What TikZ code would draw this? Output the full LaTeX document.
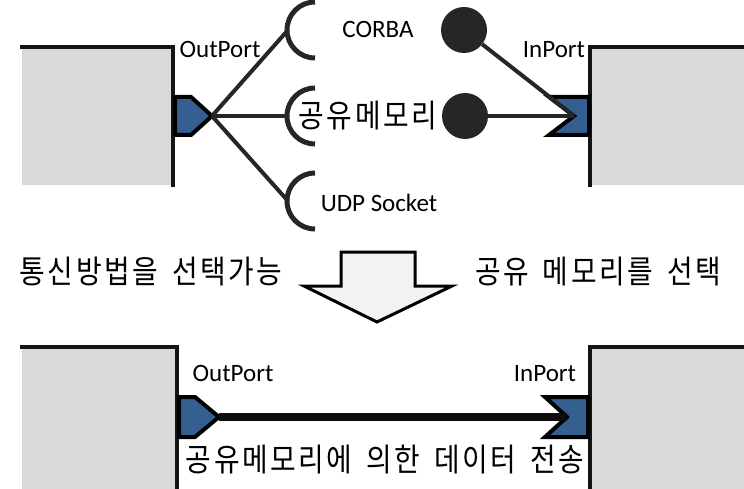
\documentclass[tikz,border=0pt]{standalone}
\usepackage{fontspec}
\setmainfont{Carlito}
\newfontfamily\kr[WordSpace=1.6, FakeStretch=0.87, LetterSpace=8]{Noto Sans CJK KR}
\definecolor{boxgray}{RGB}{217,217,217}
\definecolor{portblue}{RGB}{54,95,145}
\definecolor{conncol}{RGB}{38,38,38}
\definecolor{arrowfill}{RGB}{242,242,242}
\tikzset{
  boxfill/.style={fill=boxgray},
  border/.style={line width=4pt, draw=black!92, line cap=rect},
  portshape/.style={line width=4pt, draw=black, fill=portblue, line join=miter},
  conn/.style={line width=4pt, draw=conncol},
  bigconn/.style={line width=8.5pt, draw=black!95},
  socket/.style={line width=5pt, draw=conncol},
  plug/.style={circle, fill=conncol, minimum size=46pt, inner sep=0pt},
  lat/.style={font=\fontsize{25}{28}\selectfont, inner sep=0pt},
  kor/.style={font=\kr\fontsize{32}{34}\selectfont, inner sep=0pt},
  bigarrow/.style={line width=3pt, draw=black, fill=arrowfill, line join=miter}
}
\begin{document}
\begin{tikzpicture}[x=1pt,y=-1pt]
\useasboundingbox (0,0) rectangle (744,489);
% ---------- top row ----------
\fill[boxfill] (22,49) rectangle (173,185);
\draw[border] (22,47) -- (173,47) -- (173,185);
\fill[boxfill] (591,49) rectangle (744,185);
\draw[border] (590,185) -- (590,47) -- (744,47);
\draw[portshape] (175,97) -- (191,97) -- (212,116) -- (191,135) -- (175,135) -- cycle;
\draw[portshape] (549,97) -- (589,97) -- (589,135) -- (549,135) -- (574,116) -- cycle;
\coordinate (op1) at (212,116);
\coordinate (ip1) at (574,116);
\coordinate (sockA) at (288,30);
\coordinate (sockB) at (288,116);
\coordinate (sockC) at (288,201);
\draw[conn] (op1) -- (sockA);
\draw[conn] (op1) -- (sockB);
\draw[conn] (op1) -- (sockC);
\draw[socket] (315,58) arc[start angle=90, end angle=270, radius=28];
\draw[socket] (315,144) arc[start angle=90, end angle=270, radius=28];
\draw[socket] (315,229) arc[start angle=90, end angle=270, radius=28];
\node[plug] (plugA) at (464,30) {};
\node[plug] (plugB) at (465,116) {};
\draw[conn] (plugA) -- (ip1);
\draw[conn] (plugB) -- (ip1);
\node[lat] (tcorba) at (378,29) {CORBA};
\node[kor] (tshm) at (368,116) {공유메모리};
\node[lat] (tudp) at (379,203) {UDP Socket};
\node[lat] (tout1) at (220,49) {OutPort};
\node[lat] (tin1) at (554,50) {InPort};
% ---------- middle ----------
\node[kor] (tsel) at (151,272) {통신방법을 선택가능};
\node[kor] (tshmsel) at (598,272) {공유 메모리를 선택};
\draw[bigarrow] (341,252) -- (415,252) -- (415,286) -- (452,286) -- (377,322) -- (304,286) -- (341,286) -- cycle;
% ---------- bottom row ----------
\fill[boxfill] (22,349) rectangle (177,489);
\draw[border] (22,347) -- (177,347) -- (177,489);
\fill[boxfill] (591,349) rectangle (744,489);
\draw[border] (590,489) -- (590,347) -- (744,347);
\draw[portshape] (179,397) -- (195,397) -- (219,417) -- (195,437) -- (179,437) -- cycle;
\draw[portshape] (545,397) -- (588,397) -- (588,437) -- (545,437) -- (567,417) -- cycle;
\coordinate (op2) at (219,417);
\coordinate (ip2) at (567,417);
\draw[bigconn] (op2) -- (ip2);
\node[lat] (tout2) at (233,373) {OutPort};
\node[lat] (tin2) at (545,374) {InPort};
\node[kor] (tdata) at (385,460) {공유메모리에 의한 데이터 전송};
\end{tikzpicture}
\end{document}
